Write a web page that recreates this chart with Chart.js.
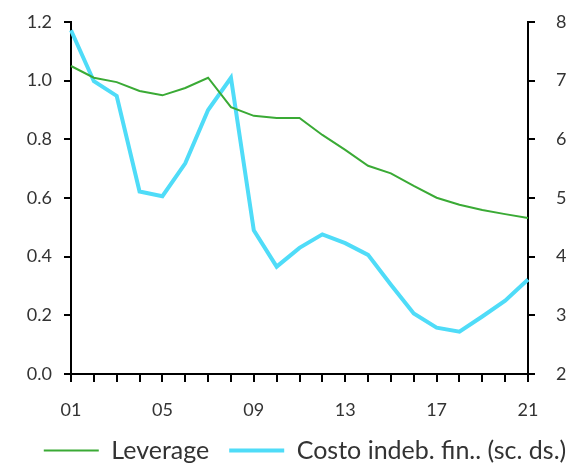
<!DOCTYPE html>
<html>
<head>
<meta charset="utf-8">
<script src="https://cdn.jsdelivr.net/npm/chart.js@4"></script>
<style>
  html, body { margin: 0; padding: 0; background: #fff; }
  #wrap { width: 574px; height: 463px; }
</style>
</head>
<body>
<div id="wrap"><canvas id="chart" width="574" height="463"></canvas></div>
<script>
// years 2001-2021
const years = ['01','02','03','04','05','06','07','08','09','10','11','12','13','14','15','16','17','18','19','20','21'];
const shownYears = ['01','05','09','13','17','21'];

// left axis
const leverage = [1.05, 1.01, 0.995, 0.965, 0.95, 0.975, 1.01, 0.91, 0.88, 0.873, 0.873, 0.815, 0.764, 0.71, 0.684, 0.641, 0.601, 0.577, 0.559, 0.545, 0.532];
// right axis (sc. ds.)
const costoIndeb = [7.86, 6.99, 6.74, 5.11, 5.03, 5.59, 6.5, 7.05, 4.45, 3.83, 4.15, 4.38, 4.23, 4.03, 3.52, 3.03, 2.79, 2.72, 2.98, 3.25, 3.61];

const leftTicks = [0, 0.2, 0.4, 0.6, 0.8, 1.0, 1.2];
const rightTicks = [2, 3, 4, 5, 6, 7, 8];

const textColor = '#333';
const fontFamily = 'Lato, "DejaVu Sans", sans-serif';

// slightly spaced lettering like the original
const spacing = {
    id: 'spacing',
    beforeInit(chart) { chart.ctx.letterSpacing = '1px'; }
};

const axisGrid = (len) => ({ display: true, drawOnChartArea: false, color: '#000', lineWidth: 2, tickLength: len });
const axisBorder = { display: true, color: '#000', width: 2 };

const ctx = document.getElementById('chart').getContext('2d');
new Chart(ctx, {
    type: 'line',
    plugins: [spacing],
    data: {
        labels: years,
        datasets: [
            {
                label: 'Leverage',
                data: leverage,
                borderColor: '#3aaa35',
                backgroundColor: '#3aaa35',
                borderWidth: 2,
                pointRadius: 0,
                yAxisID: 'y'
            },
            {
                label: 'Costo indeb. fin.. (sc. ds.)',
                data: costoIndeb,
                borderColor: '#4fdcf8',
                backgroundColor: '#4fdcf8',
                borderWidth: 4,
                pointRadius: 0,
                yAxisID: 'y1'
            }
        ]
    },
    options: {
        responsive: false,
        animation: false,
        layout: { padding: { top: 22, right: -36, left: 0, bottom: -10 } },
        plugins: {
            legend: {
                position: 'bottom',
                labels: {
                    color: textColor,
                    font: { family: fontFamily, size: 25 },
                    usePointStyle: true,
                    pointStyle: 'line',
                    pointStyleWidth: 55,
                    boxHeight: 4,
                    padding: 20
                }
            },
            tooltip: { enabled: false }
        },
        scales: {
            x: {
                afterFit(axis) { axis.height = 44; },
                grid: axisGrid(8),
                border: axisBorder,
                ticks: {
                    autoSkip: false,
                    maxRotation: 0,
                    color: textColor,
                    font: { family: fontFamily, size: 18 },
                    padding: 17,
                    callback(value, index) {
                        return shownYears.includes(years[index]) ? years[index] : '';
                    }
                }
            },
            y: {
                position: 'left',
                min: 0,
                max: 1.2,
                afterBuildTicks(axis) { axis.ticks = leftTicks.map(v => ({ value: v })); },
                afterFit(axis) { axis.width = 71; axis.paddingTop = 0; axis.paddingBottom = 0; },
                grid: axisGrid(7),
                border: axisBorder,
                ticks: {
                    color: textColor,
                    font: { family: fontFamily, size: 18 },
                    padding: 12,
                    callback: v => v.toFixed(1)
                }
            },
            y1: {
                position: 'right',
                min: 2,
                max: 8,
                afterBuildTicks(axis) { axis.ticks = rightTicks.map(v => ({ value: v })); },
                afterFit(axis) { axis.width = 82; axis.paddingTop = 0; axis.paddingBottom = 0; },
                grid: axisGrid(7),
                border: axisBorder,
                ticks: {
                    color: textColor,
                    font: { family: fontFamily, size: 18 },
                    padding: 21,
                    callback: v => String(v)
                }
            }
        }
    }
});
</script>
</body>
</html>
